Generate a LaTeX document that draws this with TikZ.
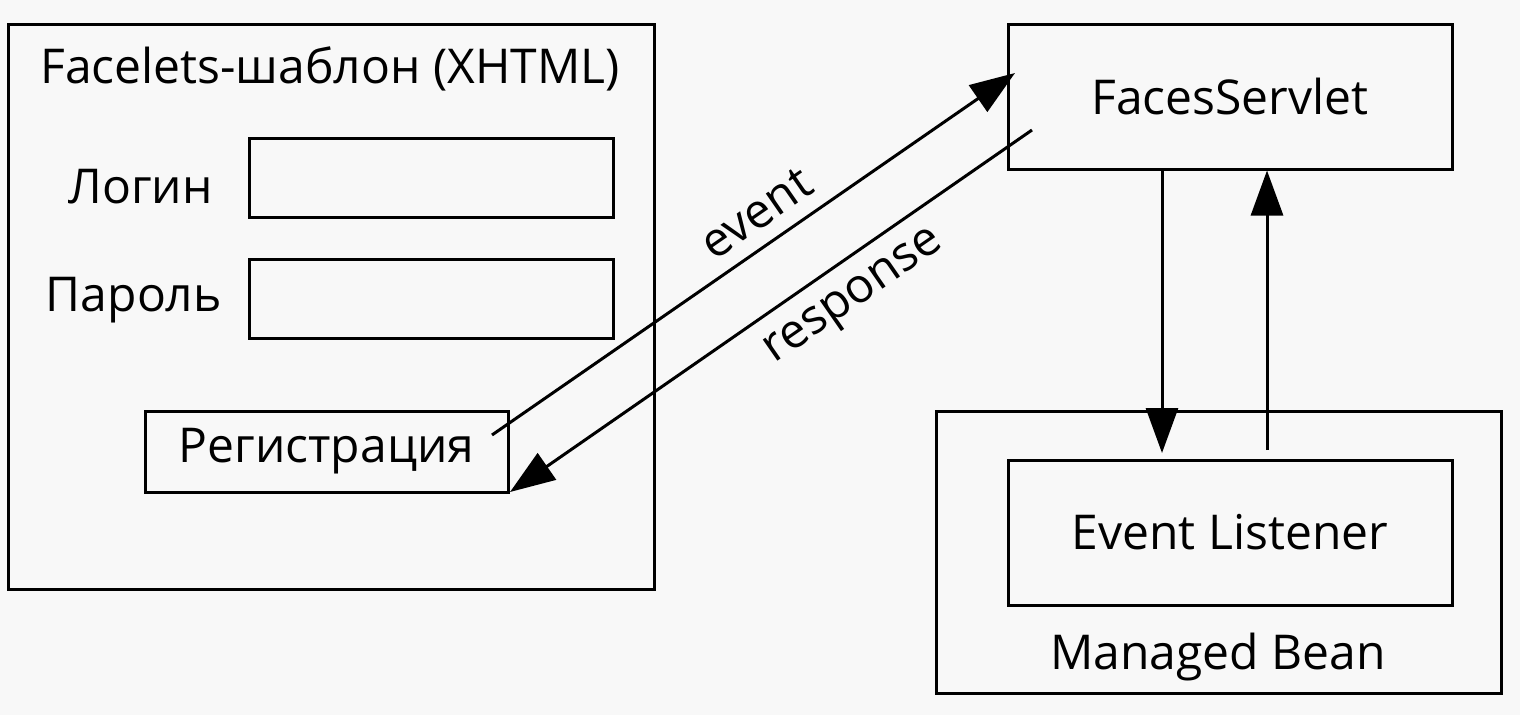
\documentclass[tikz,border=0pt]{standalone}
\usepackage{fontspec}
\setmainfont{Open Sans}
\usetikzlibrary{arrows.meta}
\definecolor{bg}{HTML}{F8F8F8}
\begin{document}
\begin{tikzpicture}[x=1pt,y=-1pt,
  box/.style={draw=black,line width=3pt,rectangle,inner sep=0pt},
  lbl/.style={font=\fontsize{48}{56}\selectfont,inner sep=0pt},
  arr/.style={line width=3pt,-{Triangle[length=45pt,width=32pt]}}]
\fill[bg] (0,0) rectangle (1520,715);
\useasboundingbox (0,0) rectangle (1520,715);
% left
\node[box,minimum width=646pt,minimum height=565pt] (tpl) at (331,306.5) {};
\node[lbl] (tpltitle) at (330,69) {Facelets-шаблон (XHTML)};
\node[box,minimum width=364pt,minimum height=79pt] (login) at (431,177.5) {};
\node[box,minimum width=364pt,minimum height=79pt] (pass) at (431,298.5) {};
\node[lbl,anchor=east] (loginl) at (213,187) {Логин};
\node[lbl,anchor=east] (passl) at (222,300) {Пароль};
\node[box,minimum width=363pt,minimum height=81pt,lbl] (reg) at (326.5,451.5) {Регистрация};
% right
\node[box,minimum width=444pt,minimum height=145pt,lbl] (fs) at (1230,96.5) {FacesServlet};
\node[box,minimum width=565pt,minimum height=282pt] (mb) at (1218.5,552) {};
\node[lbl] (mbl) at (1218,657) {Managed Bean};
\node[box,minimum width=444pt,minimum height=145pt,lbl] (el) at (1230,532.5) {Event Listener};
% arrows
\coordinate (evs) at (492,435);
\coordinate (eve) at (1015,73);
\coordinate (rss) at (1032,130);
\coordinate (rse) at (510,492);
\draw[arr] (evs) -- (eve) node[pos=0.54,sloped,above=14pt,lbl] (evl) {event};
\draw[arr] (rss) -- (rse) node[pos=0.38,sloped,below=18pt,lbl] (rsl) {response};
\draw[arr] (fs.south -| 1162,0) -- (1162,453) coordinate (dn);
\draw[arr] (1267,450) coordinate (up) -- (fs.south -| 1267,0);
\end{tikzpicture}
\end{document}
